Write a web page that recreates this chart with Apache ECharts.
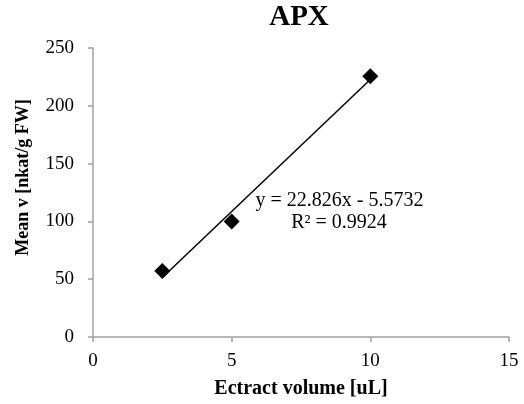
<!DOCTYPE html>
<html>
<head>
<meta charset="utf-8">
<script src="https://cdn.jsdelivr.net/npm/echarts@6/dist/echarts.min.js"></script>
<style>
  html, body { margin: 0; padding: 0; background: #fff; }
  #chart { width: 524px; height: 404px; }
</style>
</head>
<body>
<div id="chart"></div>
<script>
// Measured APX activity against extract volume
const extractVolume = [2.5, 5, 10];          // uL
const meanActivity = [57.2, 100, 225.5];     // nkat/g FW

// Linear trendline fitted to the data
const slope = 22.826;
const intercept = -5.5732;
const rSquared = 0.9924;

// Axis ranges
const xMin = 0, xMax = 15, xStep = 5;
const yMin = 0, yMax = 250, yStep = 50;

const FONT = '"Liberation Serif", "Times New Roman", serif';
const AXIS_COLOR = '#a0a0a0';

const xStart = Math.min(...extractVolume);
const xEnd = Math.max(...extractVolume);
const trendData = [
  [xStart, slope * xStart + intercept],
  [xEnd, slope * xEnd + intercept]
];
const eqText = 'y = ' + slope + 'x ' + (intercept < 0 ? '- ' : '+ ') + Math.abs(intercept);
const r2Text = 'R\u00B2 = ' + rSquared;

const chart = echarts.init(document.getElementById('chart'), null, { renderer: 'canvas' });

chart.setOption({
  animation: false,
  backgroundColor: '#ffffff',
  grid: { left: 93, right: 15, top: 48, bottom: 67, containLabel: false },
  xAxis: {
    type: 'value',
    min: xMin, max: xMax, interval: xStep,
    name: 'Ectract volume [uL]',
    nameLocation: 'middle',
    nameGap: 42,
    nameTextStyle: { fontFamily: FONT, fontSize: 20, fontWeight: 'bold', color: '#000' },
    axisLine: { show: true, onZero: false, lineStyle: { color: AXIS_COLOR, width: 1.5 } },
    axisTick: { show: true, length: 5, lineStyle: { color: AXIS_COLOR, width: 1.5 } },
    axisLabel: { fontFamily: FONT, fontSize: 19, color: '#000', margin: 15 },
    splitLine: { show: false }
  },
  yAxis: {
    type: 'value',
    min: yMin, max: yMax, interval: yStep,
    axisLine: { show: true, onZero: false, lineStyle: { color: AXIS_COLOR, width: 1.5 } },
    axisTick: { show: true, length: 5, lineStyle: { color: AXIS_COLOR, width: 1.5 } },
    axisLabel: { fontFamily: FONT, fontSize: 19, color: '#000', margin: 19 },
    splitLine: { show: false }
  },
  graphic: [
    {
      type: 'text', x: 299, y: 18,
      style: { text: 'APX', fontFamily: FONT, fontSize: 29, fontWeight: 'bold', fill: '#000',
               textAlign: 'center', textVerticalAlign: 'middle' }
    },
    {
      type: 'text', x: 23, y: 177.5, rotation: Math.PI / 2,
      style: { text: 'Mean v [nkat/g FW]', fontFamily: FONT, fontSize: 18, fontWeight: 'bold', fill: '#000',
               textAlign: 'center', textVerticalAlign: 'middle' }
    },
    {
      type: 'text', x: 339.5, y: 200.5,
      style: { text: eqText, fontFamily: FONT, fontSize: 20, fill: '#000',
               textAlign: 'center', textVerticalAlign: 'middle' }
    },
    {
      type: 'text', x: 339, y: 223,
      style: { text: r2Text, fontFamily: FONT, fontSize: 20, fill: '#000',
               textAlign: 'center', textVerticalAlign: 'middle' }
    }
  ],
  series: [
    {
      name: 'Linear trend',
      type: 'line',
      data: trendData,
      showSymbol: false,
      symbol: 'none',
      lineStyle: { color: '#000', width: 1.5 },
      silent: true,
      z: 2
    },
    {
      name: 'APX',
      type: 'scatter',
      data: extractVolume.map((x, i) => [x, meanActivity[i]]),
      symbol: 'diamond',
      symbolSize: 16,
      itemStyle: { color: '#000', opacity: 1 },
      z: 3
    }
  ]
});
</script>
</body>
</html>
